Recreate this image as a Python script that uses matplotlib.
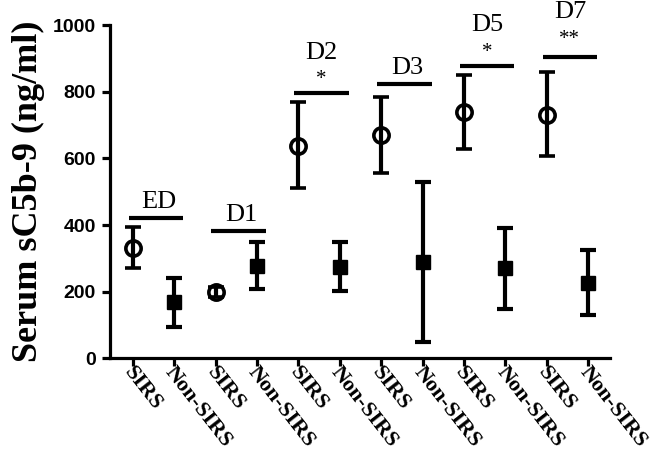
import matplotlib
matplotlib.use("Agg")
import matplotlib.pyplot as plt

# -------------------------
# DATOS
# -------------------------
grupos = ["ED", "D1", "D2", "D3", "D5", "D7"]
signif = ["", "", "*", "", "*", "**"]
etiquetas = ["SIRS", "Non-SIRS"] * 6

sirs_media = [330, 198, 638, 670, 738, 730]
sirs_alto = [395, 214, 768, 785, 850, 858]
sirs_bajo = [270, 184, 510, 555, 628, 607]

non_media = [170, 277, 275, 290, 270, 227]
non_alto = [242, 348, 350, 530, 390, 325]
non_bajo = [95, 207, 203, 50, 147, 130]

barra_y = [422, 382, 795, 822, 878, 905]

# -------------------------
# FIGURA
# -------------------------
fig = plt.figure(figsize=(6.69, 4.73), dpi=100)
ax = fig.add_axes([0.1644, 0.2425, 0.912 - 0.1644, 0.947 - 0.2425])

x_sirs = [1 + 2 * i for i in range(6)]
x_non = [2 + 2 * i for i in range(6)]

err_sirs = [[m - b for m, b in zip(sirs_media, sirs_bajo)],
            [a - m for m, a in zip(sirs_media, sirs_alto)]]
err_non = [[m - b for m, b in zip(non_media, non_bajo)],
           [a - m for m, a in zip(non_media, non_alto)]]

ax.errorbar(x_sirs, sirs_media, yerr=err_sirs, fmt="o", color="black",
            mfc="none", mec="black", mew=2.6, ms=11, elinewidth=3,
            capsize=5.5, capthick=3, zorder=3)
ax.errorbar(x_non, non_media, yerr=err_non, fmt="s", color="black",
            ms=10, elinewidth=3, capsize=5.5, capthick=3, zorder=3)

# lineas de comparacion y etiquetas
for i, g in enumerate(grupos):
    x0 = x_sirs[i] - 0.1
    x1 = x_non[i] + 0.22
    y = barra_y[i]
    ax.plot([x0, x1], [y, y], color="black", lw=3, clip_on=False,
            solid_capstyle="butt")
    xc = (x0 + x1) / 2
    extra = 12 if g == "D7" else 0
    if signif[i]:
        ax.text(xc, y + 12 + extra, signif[i], ha="center", va="bottom",
                fontsize=15, family="Liberation Serif", clip_on=False)
        ax.text(xc, y + 88 + extra, g, ha="center", va="bottom", fontsize=19,
                family="Liberation Serif", clip_on=False)
    else:
        ax.text(xc + 0.07, y + 15, g, ha="center", va="bottom", fontsize=19,
                family="Liberation Serif", clip_on=False)

ax.set_xlim(0.45, 12.53)
ax.set_ylim(0, 1000)
ax.set_yticks([0, 200, 400, 600, 800, 1000])
ax.set_xticks(range(1, 13))
ax.set_xticklabels([])

# etiquetas del eje x como texto girado
for xt, et in zip(range(1, 13), etiquetas):
    ax.annotate(et, xy=(xt, 0), xycoords=("data", "axes fraction"),
                xytext=(2, -3), textcoords="offset points",
                rotation=-52, rotation_mode="anchor", ha="left", va="top",
                fontsize=16, fontweight="bold", family="Liberation Serif",
                annotation_clip=False)

for lbl in ax.get_yticklabels():
    lbl.set_fontweight("bold")
    lbl.set_family("Liberation Sans")
    lbl.set_fontsize(14)

ax.spines["top"].set_visible(False)
ax.spines["right"].set_visible(False)
ax.spines["left"].set_linewidth(2.3)
ax.spines["bottom"].set_linewidth(2.3)
ax.tick_params(width=2.3, length=6, pad=4)

ax.set_ylabel("Serum sC5b-9 (ng/ml)", fontsize=26, fontweight="bold",
              family="Liberation Serif", labelpad=6)

fig.savefig("out.png", dpi=100)
